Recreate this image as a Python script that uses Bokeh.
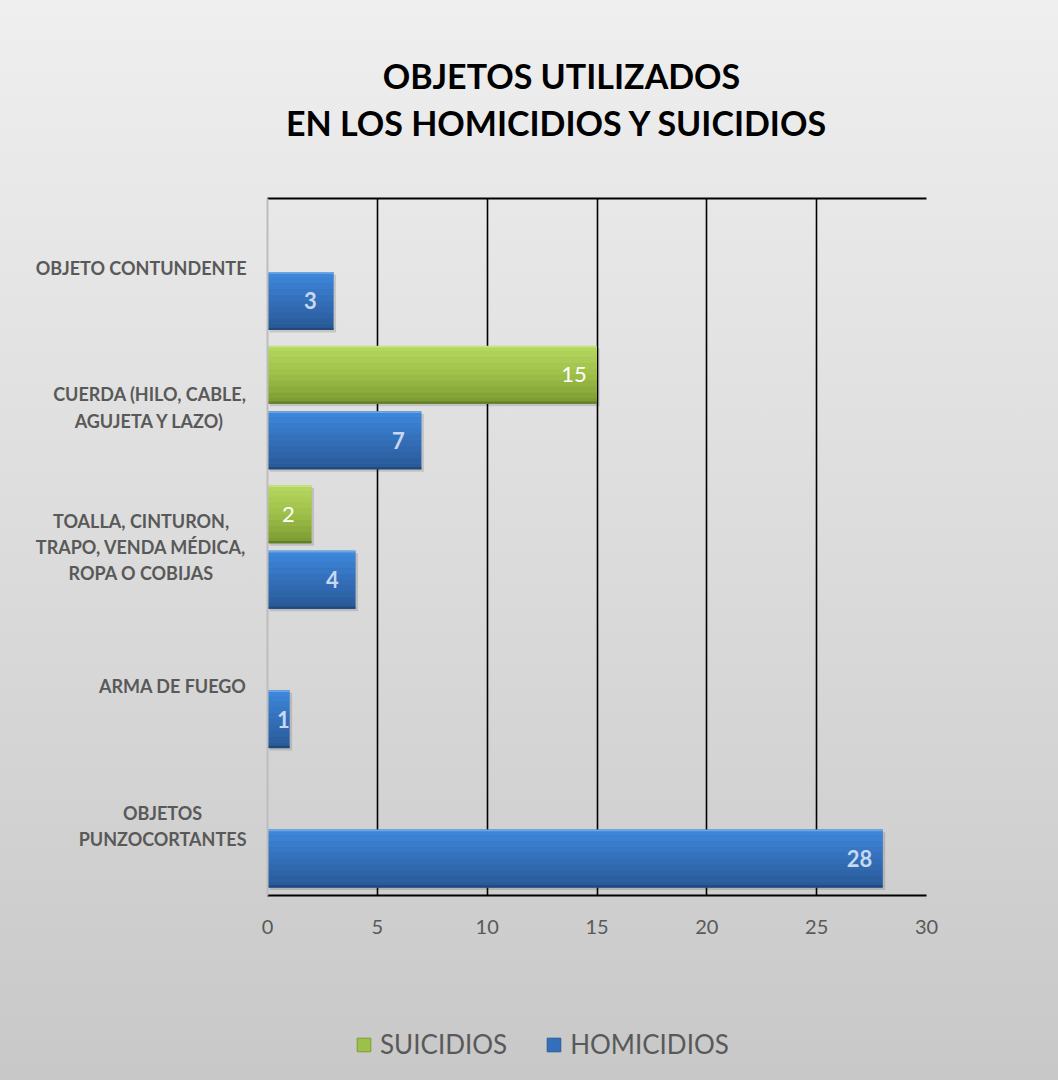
from bokeh.plotting import figure
from bokeh.models import (Range1d, FixedTicker, LinearAxis, Legend, LegendItem,
                          ColumnDataSource, LabelSet)
from bokeh.layouts import row, column
from bokeh.core.properties import value
from bokeh.embed import file_html
from bokeh.resources import INLINE

# ---- data (top to bottom) ----
categories = ["OBJETO CONTUNDENTE",
              "CUERDA (HILO, CABLE,\nAGUJETA Y LAZO)",
              "TOALLA, CINTURON,\nTRAPO, VENDA MÉDICA,\nROPA O COBIJAS",
              "ARMA DE FUEGO",
              "OBJETOS\nPUNZOCORTANTES"]
suicidios = [0, 15, 2, 0, 0]
homicidios = [3, 7, 4, 1, 28]
x_ticks = [0, 5, 10, 15, 20, 25, 30]
series_names = ["SUICIDIOS", "HOMICIDIOS"]
title_text = "OBJETOS UTILIZADOS\nEN LOS  HOMICIDIOS Y SUICIDIOS"

W, H = 1058, 1080
LAB_W = 250
TITLE_H = 180
MID_H = 960 - TITLE_H
TOP_B, BOT_B = 198 - TITLE_H, 65

n = len(categories)
ypos = [n - 1 - i for i in range(n)]
OFF, BH = 0.235, 0.415
yr = Range1d(-0.5, 4.5)


def blank(width, height, xr, yrange, **kw):
    f = figure(width=width, height=height, output_backend="svg", toolbar_location=None,
               x_range=xr, y_range=yrange, x_axis_type=None, y_axis_type=None, **kw)
    f.border_fill_color = None
    f.background_fill_color = None
    f.outline_line_color = None
    return f


# ---------- title panel ----------
pt = blank(W, TITLE_H, Range1d(0, W), Range1d(0, TITLE_H), min_border=0)
pt.text(x=[561], y=[TITLE_H - 98.5], text=[title_text], anchor="center",
        text_align="center", text_baseline="middle", text_font=value("Lato"),
        text_font_size="34px", text_font_style="bold", text_color="black",
        text_line_height=1.15)

# ---------- main chart ----------
p = figure(width=W - LAB_W, height=MID_H, output_backend="svg", toolbar_location=None,
           x_range=Range1d(0, 30), y_range=yr,
           min_border_left=17, min_border_right=132,
           min_border_top=TOP_B, min_border_bottom=BOT_B, title=None)
p.border_fill_color = None
p.background_fill_color = None
p.outline_line_color = None

p.xaxis.ticker = FixedTicker(ticks=x_ticks)
p.xaxis.axis_line_color = "black"
p.xaxis.axis_line_width = 2
p.xaxis.major_tick_out = 0
p.xaxis.major_tick_in = 0
p.xaxis.minor_tick_line_color = None
p.xaxis.major_label_text_font = "Lato"
p.xaxis.major_label_text_font_size = "20px"
p.xaxis.major_label_text_color = "#595959"
p.xaxis.major_label_standoff = 24

p.yaxis.ticker = FixedTicker(ticks=[])
p.yaxis.axis_line_color = "#bdbdbd"
p.yaxis.axis_line_width = 2
p.yaxis.major_tick_out = 0
p.yaxis.major_tick_in = 0
p.yaxis.minor_tick_line_color = None
p.yaxis.major_label_text_font_size = "0px"
p.yaxis.major_label_standoff = 0

top_axis = LinearAxis(ticker=FixedTicker(ticks=[]), axis_line_color="black", axis_line_width=2,
                      major_label_text_font_size="0px", minor_tick_line_color=None,
                      major_tick_out=0, major_tick_in=0, major_label_standoff=0)
p.add_layout(top_axis, "above")

p.ygrid.grid_line_color = None
p.xgrid.ticker = FixedTicker(ticks=x_ticks[1:])
p.xgrid.grid_line_color = "black"
p.xgrid.grid_line_width = 1.6


def mix(a, b, t):
    a = [int(a[i:i + 2], 16) for i in (1, 3, 5)]
    b = [int(b[i:i + 2], 16) for i in (1, 3, 5)]
    return "#%02x%02x%02x" % tuple(int(round(a[k] + (b[k] - a[k]) * t)) for k in range(3))


def draw_series(vals, dy, top_col, mid_col, bot_col):
    ys = [y + dy for y, v in zip(ypos, vals) if v > 0]
    xs = [v for v in vals if v > 0]
    p.hbar(y=[y - 0.018 for y in ys], right=[x + 0.12 for x in xs], left=0.1, height=BH,
           fill_color="black", fill_alpha=0.13, line_color=None)
    p.hbar(y=ys, right=xs, left=0, height=BH, fill_color=mid_col, line_color=None)
    ns = 10
    sh = BH / ns
    for k in range(ns):
        t = k / (ns - 1)
        col = mix(top_col, mid_col, t * 2) if t < 0.5 else mix(mid_col, bot_col, (t - 0.5) * 2)
        p.hbar(y=[y + BH / 2 - sh * (k + 0.5) for y in ys], right=xs, left=0, height=sh * 1.02,
               fill_color=col, line_color=None)
    p.hbar(y=[y + BH / 2 - 0.006 for y in ys], right=xs, left=0, height=0.012,
           fill_color=mix(top_col, "#ffffff", 0.25), line_color=None)
    p.hbar(y=[y - BH / 2 + 0.008 for y in ys], right=xs, left=0, height=0.016,
           fill_color=mix(bot_col, "#000000", 0.2), line_color=None)
    return xs, ys


S_COLS = ("#b5d65e", "#9dc048", "#7e9c34")
H_COLS = ("#3d87db", "#346fba", "#2a5b99")
sx, sy = draw_series(suicidios, +OFF, *S_COLS)
hx, hy = draw_series(homicidios, -OFF, *H_COLS)

px_per_unit = 659 / 30.0


def lab_x(v):
    return max(v - 23 / px_per_unit, 16 / px_per_unit)


src_s = ColumnDataSource(dict(x=[lab_x(v) for v in sx], y=sy, t=[str(v) for v in sx]))
src_h = ColumnDataSource(dict(x=[lab_x(v) for v in hx], y=hy, t=[str(v) for v in hx]))
p.add_layout(LabelSet(x="x", y="y", text="t", source=src_s, text_align="center",
                      text_baseline="middle", text_font=value("Lato"), text_font_size="22px",
                      text_color="white"))
p.add_layout(LabelSet(x="x", y="y", text="t", source=src_h, text_align="center",
                      text_baseline="middle", text_font=value("Lato"), text_font_size="22px",
                      text_font_style="bold", text_color="#c6d9f1"))

# ---------- category labels panel ----------
pl = blank(LAB_W, MID_H, Range1d(0, LAB_W), yr, min_border_left=0, min_border_right=0,
           min_border_top=TOP_B, min_border_bottom=BOT_B)
pl.text(x=[LAB_W - 4] * n, y=ypos, text=categories, anchor="center_right",
        text_align="center", text_baseline="middle", text_font=value("Lato"),
        text_font_size="18px", text_font_style="bold", text_color="#595959",
        text_line_height=1.2)

# ---------- legend panel ----------
LEG_H = H - TITLE_H - MID_H
pg = blank(W, LEG_H, Range1d(0, W), Range1d(0, LEG_H), min_border=0)
g_s = pg.hbar(y=[-50], right=[1], left=0, height=1, fill_color=S_COLS[1], line_color=S_COLS[2])
g_h = pg.hbar(y=[-50], right=[1], left=0, height=1, fill_color=H_COLS[1], line_color=H_COLS[2])
legend = Legend(items=[LegendItem(label=series_names[0], renderers=[g_s]),
                       LegendItem(label=series_names[1], renderers=[g_h])],
                location=(355, 20), orientation="horizontal",
                glyph_width=17, glyph_height=17, label_standoff=8, spacing=38,
                padding=0, margin=0, background_fill_alpha=0, border_line_alpha=0,
                label_text_font="Lato", label_text_font_size="26px",
                label_text_color="#595959")
pg.add_layout(legend)

layout = column(pt, row(pl, p, spacing=0), pg, spacing=0)
layout.styles = {"background": "linear-gradient(180deg, #efefef 0%, #dcdcdc 50%, #c8c8c8 100%)"}

open("out.html", "w").write(file_html(layout, INLINE))
